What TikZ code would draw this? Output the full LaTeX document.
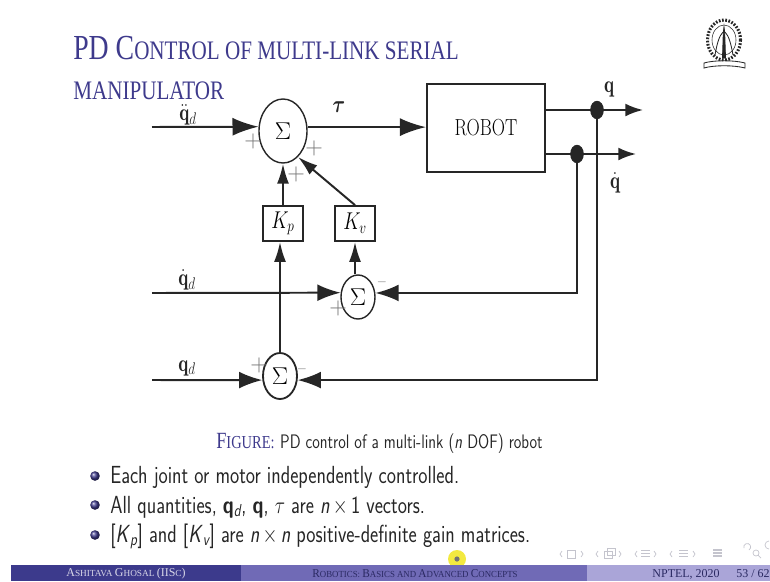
\documentclass[tikz,border=0pt]{standalone}
\usepackage{amsmath}
\usepackage{fontspec}
\newfontfamily\slidefont{Liberation Serif}
\usetikzlibrary{arrows.meta,shapes.geometric}
\definecolor{slideblue}{RGB}{62,58,140}
\definecolor{barleft}{RGB}{60,58,140}
\definecolor{barmid}{RGB}{112,106,182}
\definecolor{barright}{RGB}{170,165,216}
\definecolor{inkdark}{RGB}{38,38,38}
\definecolor{navgray}{RGB}{196,196,205}
\newcommand{\fs}[1]{\fontsize{#1}{#1}\selectfont}
\newcommand{\squeeze}[1]{\scalebox{0.79}[1]{#1}}
\tikzset{
  sumnode/.style={draw=inkdark, line width=1pt, ellipse, inner sep=0pt, fill=white},
  gainbox/.style={draw=inkdark, line width=1.3pt, minimum width=1cm, minimum height=0.875cm, inner sep=0pt, font=\fs{18}},
  joindot/.style={fill=inkdark, ellipse, minimum width=0.34cm, minimum height=0.46cm, inner sep=0pt},
  sigtext/.style={inkdark, font=\fs{17}, inner sep=0pt},
  signtext/.style={black!55, inner sep=0pt, font=\fs{16}},
  bigline/.style={inkdark, line width=1.4pt, -{Latex[length=0.65cm,width=0.45cm]}},
  midline/.style={inkdark, line width=1.4pt, -{Latex[length=0.58cm,width=0.42cm]}},
  upline/.style={inkdark, line width=1.4pt, -{Latex[length=0.5cm,width=0.3cm]}},
  outline/.style={inkdark, line width=1.4pt, -{Latex[length=0.44cm,width=0.32cm]}},
  bodytext/.style={anchor=base west, inner sep=0pt, inkdark, font=\sffamily\fs{17.6}},
  ballnode/.style={circle, minimum size=0.24cm, inner sep=0pt, ball color=slideblue},
  bartext/.style={inner sep=0pt, font=\slidefont},
  navmark/.style={navgray, line width=0.5pt}
}
\begin{document}
\begin{tikzpicture}[x=0.025cm,y=-0.025cm]
  \useasboundingbox (0,0) rectangle (770,581);

  % title
  \node[anchor=base west, inner sep=0pt, slideblue, font=\slidefont] (titleone) at (73,59) {\squeeze{\fs{25}PD C\fs{19}ONTROL OF MULTI-LINK SERIAL}};
  \node[anchor=base west, inner sep=0pt, slideblue, font=\slidefont\fs{19}] (titletwo) at (73,99) {\squeeze{MANIPULATOR}};

  % seal
  \draw[inkdark, line width=2.2pt, dash pattern=on 1.2pt off 1.1pt] (724,40) ellipse (16.5 and 20);
  \draw[inkdark, line width=0.4pt] (724,40) ellipse (12 and 15);
  \draw[inkdark, line width=0.6pt, fill=inkdark] (722.5,58) -- (723.3,33) -- (724,27) -- (724.7,33) -- (725.5,58) -- cycle;
  \draw[inkdark, line width=0.6pt] (715,55) .. controls (717,44) and (719,36) .. (723,32);
  \draw[inkdark, line width=0.6pt] (733,55) .. controls (731,44) and (729,36) .. (725,32);
  \draw[inkdark, line width=0.6pt] (704,63) .. controls (714,60) and (734,60) .. (745,63) -- (745,68) .. controls (734,65) and (714,65) .. (704,68) -- cycle;

  % blocks
  \node[sumnode, minimum width=1.2cm, minimum height=1.6cm] (sumtau) at (283,131) {\fs{16}$\Sigma$};
  \node[sumnode, minimum width=0.85cm, minimum height=1.1cm] (sumqd) at (358,297) {\fs{16}$\Sigma$};
  \node[sumnode, line width=1.3pt, minimum width=0.85cm, minimum height=1.15cm] (sumq) at (280,376) {\fs{16}$\Sigma$};
  \node[draw=inkdark, line width=1.5pt, minimum width=2.95cm, minimum height=2.2cm, inner sep=0pt, font=\fs{16.5}] (robot) at (486,128) {\squeeze{ROBOT}};
  \node[gainbox] (kp) at (283,223.5) {\squeeze{$K_p$}};
  \node[gainbox] (kv) at (355,223.5) {\squeeze{$K_v$}};
  \node[joindot] (qjoin) at (597,110) {};
  \node[joindot] (qdjoin) at (577,154) {};

  % free ends
  \coordinate (qddin) at (152,127);
  \coordinate (qdin) at (152,293);
  \coordinate (qin) at (152,380);
  \coordinate (qout) at (643,110);
  \coordinate (qdout) at (636,154);

  % connectors
  \draw[bigline] (qddin) -- (sumtau.170.5);
  \draw[bigline] (sumtau.9.5) -- (sumtau.9.5 -| robot.west);
  \draw[outline] (qjoin -| robot.east) -- (qout);
  \draw[outline] (qdjoin -| robot.east) -- (qdout);
  \draw[midline] (qdin) -- (sumqd.166.5);
  \draw[midline] (qin) -- (sumq.193.5);
  \draw[midline] (qdjoin) |- (sumqd.13.5);
  \draw[midline] (qjoin) |- (sumq.-13.5);
  \draw[upline] (sumq.north) -- (sumq.north |- kp.south);
  \draw[upline] (sumqd.north -| kv.south) -- (kv.south);
  \draw[upline] (kp.north) -- (kp.north |- sumtau.south);
  \draw[upline] (kv.north) -- (sumtau.-60);

  % signal labels
  \node[sigtext] (lblqdd) at (188,115) {\squeeze{$\ddot{\mathbf{q}}_d$}};
  \node[sigtext] (lbltau) at (339,107) {\squeeze{$\boldsymbol{\tau}$}};
  \node[sigtext] (lblq) at (609,89) {\squeeze{$\mathbf{q}$}};
  \node[sigtext] (lblqdot) at (615,183) {\squeeze{$\dot{\mathbf{q}}$}};
  \node[sigtext] (lblqdin) at (187,280) {\squeeze{$\dot{\mathbf{q}}_d$}};
  \node[sigtext] (lblqin) at (187,368) {\squeeze{$\mathbf{q}_d$}};

  % signs
  \node[signtext] (plusa) at (253,141) {$+$};
  \node[signtext] (plusb) at (314,148) {$+$};
  \node[signtext] (plusc) at (296,174) {$+$};
  \node[signtext] (plusd) at (338,308) {$+$};
  \node[signtext] (pluse) at (259,365) {$+$};
  \node[signtext, font=\fs{9}] (minusa) at (382,282) {$-$};
  \node[signtext, font=\fs{9}] (minusb) at (302,369) {$-$};

  % caption and bullets
  \node[anchor=base west, inner sep=0pt] (caption) at (216,448) {\squeeze{{\slidefont\color{slideblue}\fs{16.5}F\fs{13}IGURE:}\hspace{5pt}\sffamily\color{inkdark}\fs{13.9}PD control of a multi-link (\textsl{n} DOF) robot}};
  \node[ballnode] (ballone) at (95,476) {};
  \node[ballnode] (balltwo) at (95,505) {};
  \node[ballnode] (ballthree) at (95,535) {};
  \node[bodytext] (lineone) at (110,483) {\squeeze{Each joint or motor independently controlled.}};
  \node[bodytext] (linetwo) at (110,513) {\squeeze{All quantities, \textbf{q}$_{\mathsf{\textsl{d}}}$, \textbf{q}, $\tau$ are \textsl{n}\,$\times$\,1 vectors.}};
  \node[bodytext] (linethree) at (110,542) {\squeeze{[\textsl{K}$_{\textsl{p}}$] and [\textsl{K}$_{\textsl{v}}$] are \textsl{n}\,$\times$\,\textsl{n} positive-definite gain matrices.}};

  % navigation marks
  \foreach \xpos in {560,596,635,670} {
    \draw[navmark] (\xpos+2,551) -- (\xpos,554) -- (\xpos+2,557);
  }
  \foreach \xpos in {583,621,656,695} {
    \draw[navmark] (\xpos-2,551) -- (\xpos,554) -- (\xpos-2,557);
  }
  \draw[navmark] (567,550) rectangle (575,558);
  \draw[navmark] (604,551) rectangle (612,558);
  \draw[navmark] (607,548) rectangle (615,555);
  \foreach \ypos in {550,553,556} {
    \draw[navmark] (641,\ypos) -- (650,\ypos);
    \draw[navmark] (679,\ypos) -- (688,\ypos);
    \draw[navmark, line width=0.8pt] (713,\ypos) -- (722,\ypos);
  }
  \draw[navmark] (749,550) arc (60:-200:3.5);
  \draw[navmark] (756,553) circle (3);
  \draw[navmark] (758,555) -- (761,558);
  \draw[navmark] (769,549) arc (90:270:4);

  % cursor
  \fill[yellow!85!olive, opacity=0.75] (457,559) circle (9);
  \fill[black!55] (457,559) circle (2.6);

  % footer bar
  \fill[barleft] (11,565) rectangle (241,581);
  \fill[barmid] (241,565) rectangle (587,581);
  \fill[barright] (587,565) rectangle (770,581);
  \node[bartext, text=white!80!barleft] (authortext) at (126,574) {\fs{8.5}A\fs{6.6}SHITAVA \fs{8.5}G\fs{6.6}HOSAL \fs{8.5}(IIS\fs{6.6}C\fs{8.5})};
  \node[bartext, text=barleft!70!black] (talktext) at (415,574) {\scalebox{0.95}[1]{\fs{8.5}R\fs{6.6}OBOTICS: \fs{8.5}B\fs{6.6}ASICS AND \fs{8.5}A\fs{6.6}DVANCED \fs{8.5}C\fs{6.6}ONCEPTS}};
  \node[bartext, text=barleft!70!black, font=\slidefont\fs{8.5}] (yeartext) at (686,574) {NPTEL, 2020};
  \node[bartext, text=barleft!70!black, font=\slidefont\fs{8.5}] (pagetext) at (753,574) {53 / 62};
\end{tikzpicture}
\end{document}
